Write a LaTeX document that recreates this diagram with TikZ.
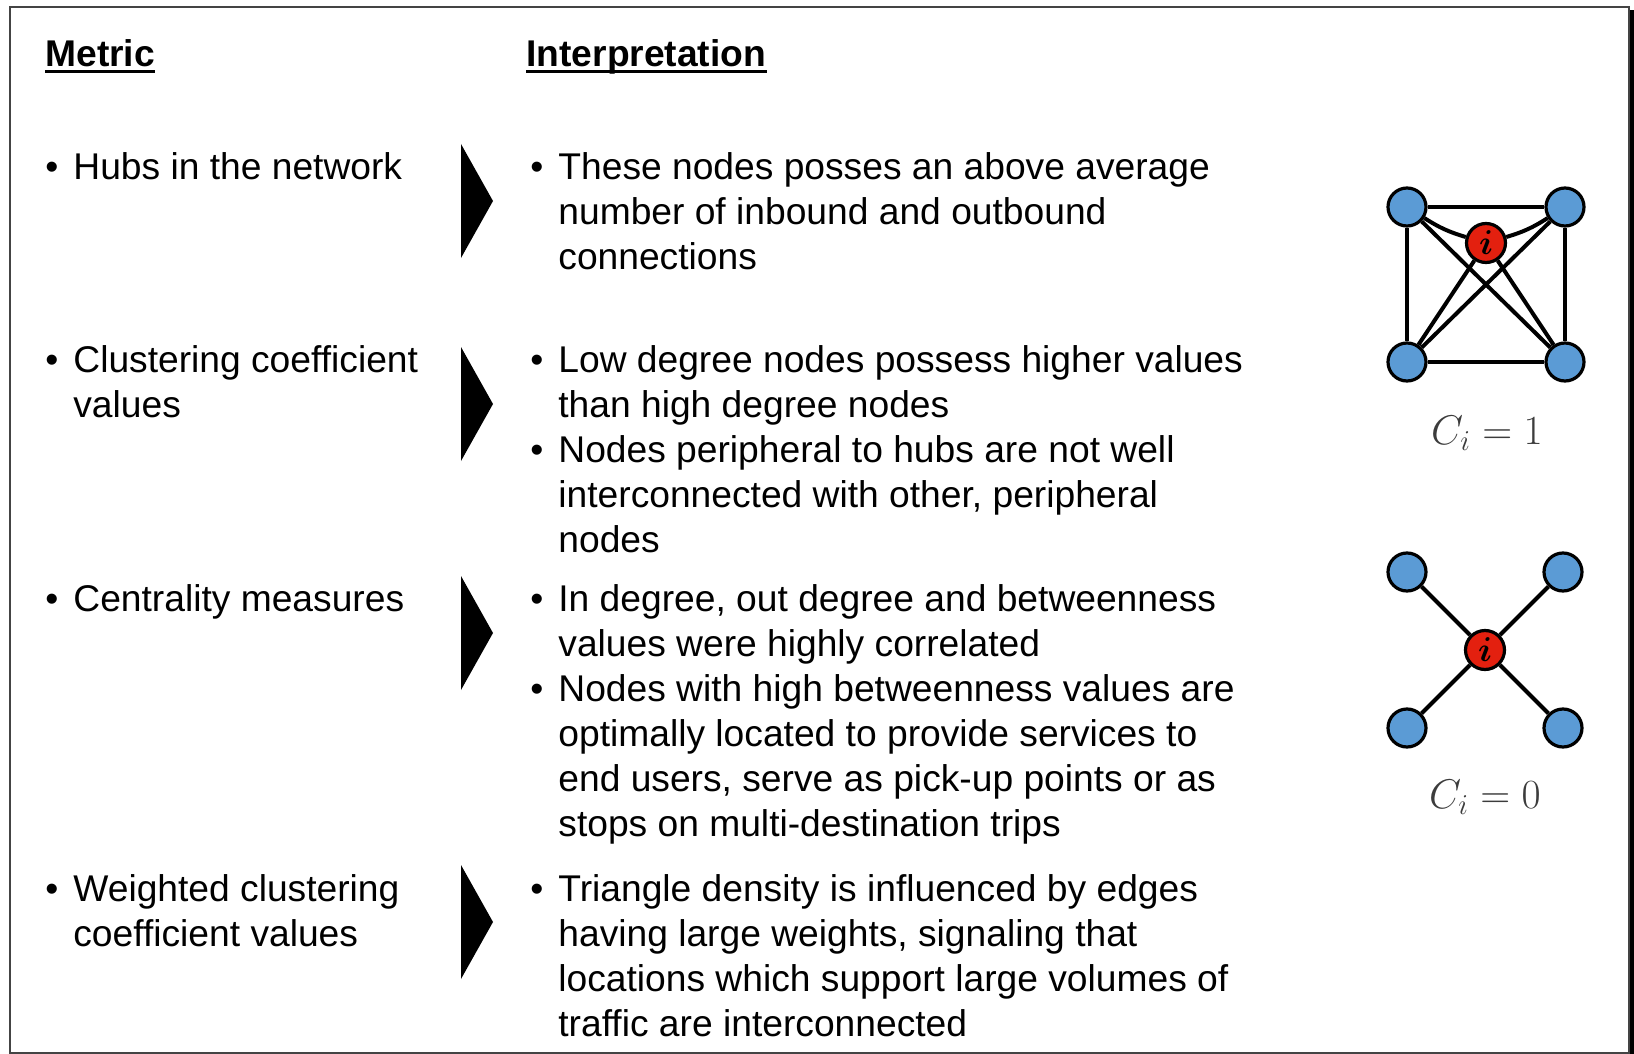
\documentclass[tikz,border=0pt]{standalone}
\usepackage[no-math]{fontspec}
\setmainfont{Liberation Sans}
\usepackage{amsmath, amssymb}
\usepackage{tikz}
\usepackage{xcolor}
\usetikzlibrary{calc}
\definecolor{nodeblue}{HTML}{5B9BD5}
\definecolor{nodered}{HTML}{E3200F}
\definecolor{framegray}{HTML}{444444}
\definecolor{labelgray}{HTML}{3C3C3C}

\begin{document}
\begin{tikzpicture}[x=0.5pt, y=-0.5pt,
            body/.style={anchor=base west, inner sep=0pt, align=left, font=\fontsize{18.6}{22.5}\selectfont},
            head/.style={body, font=\fontsize{18.6}{22.5}\selectfont\bfseries},
            hub/.style={circle, draw=black, fill=nodeblue, line width=1.6pt, minimum size=19pt, inner sep=0pt},
            ego/.style={circle, draw=black, fill=nodered, line width=1.6pt, minimum size=19.5pt, inner sep=0pt, font=\fontsize{16}{16}\selectfont},
            link/.style={black, line width=2pt},
            cilabel/.style={anchor=base, inner sep=0pt, text=labelgray, font=\fontsize{20}{20}\selectfont}]
            \useasboundingbox (0,0) rectangle (1634,1054);
            \fill[black] (1629,10) rectangle (1634,1054);
            \draw[framegray, line width=1pt] (10,7) rectangle (1629,1053);

            \node[head] (mhead) at (45,67) {Metric};
            \node[head] (ihead) at (526,67) {Interpretation};
            \foreach \h in {mhead, ihead}
                \draw[line width=1.5pt] ([yshift=-2.5pt]\h.base west) -- ([yshift=-2.5pt]\h.base east);

            % base anchor sits on the last line
            \node[body] (m1) at (73,180) {Hubs in the network};
            \node[body] (m2) at (73,417) {Clustering coefficient\\values};
            \node[body] (m3) at (73,611) {Centrality measures};
            \node[body] (m4) at (73,946) {Weighted clustering\\coefficient values};

            \node[body] (p1) at (558,270) {These nodes posses an above average\\number of inbound and outbound\\connections};
            \node[body] (p2) at (558,417) {Low degree nodes possess higher values\\than high degree nodes};
            \node[body] (p3) at (558,552) {Nodes peripheral to hubs are not well\\interconnected with other, peripheral\\nodes};
            \node[body] (p4) at (558,656) {In degree, out degree and betweenness\\values were highly correlated};
            \node[body] (p5) at (558,836) {Nodes with high betweenness values are\\optimally located to provide services to\\end users, serve as pick-up points or as\\stops on multi-destination trips};
            \node[body] (p6) at (558,1036) {Triangle density is influenced by edges\\having large weights, signaling that\\locations which support large volumes of\\traffic are interconnected};

            \foreach \x/\y [count=\k] in {45/180,45/372,45/611,45/901,530/180,530/372,530/462,530/611,530/701,530/901}
                \node[body] (dot\k) at (\x,\y) {•};

            \foreach \yc in {201,404,633,922}
                \fill[black] (461,\yc-57) -- (493,\yc) -- (461,\yc+57) -- cycle;

            \node[hub] (a1) at (1407,207) {};
            \node[hub] (a2) at (1565,207) {};
            \node[hub] (a3) at (1407,362) {};
            \node[hub] (a4) at (1565,362) {};
            \node[ego] (ai) at (1486,243) {$\boldsymbol{i}$};
            \draw[link] (a1) -- (a2) -- (a4) -- (a3) -- (a1);
            \draw[link] (a1) -- (a4) (a2) -- (a3) (ai) -- (a3) (ai) -- (a4);
            \draw[link] (a1) to[bend right=8] (ai);
            \draw[link] (ai) to[bend right=8] (a2);
            \node[cilabel] (c1) at (1487,444) {$C_i = 1$};

            \node[hub] (b1) at (1407,572) {};
            \node[hub] (b2) at (1563,572) {};
            \node[hub] (b3) at (1407,728) {};
            \node[hub] (b4) at (1563,728) {};
            \node[ego] (bi) at (1485,650) {$\boldsymbol{i}$};
            \draw[link] (bi) -- (b1) (bi) -- (b2) (bi) -- (b3) (bi) -- (b4);
            \node[cilabel] (c2) at (1485,808) {$C_i = 0$};
        \end{tikzpicture}
\end{document}
